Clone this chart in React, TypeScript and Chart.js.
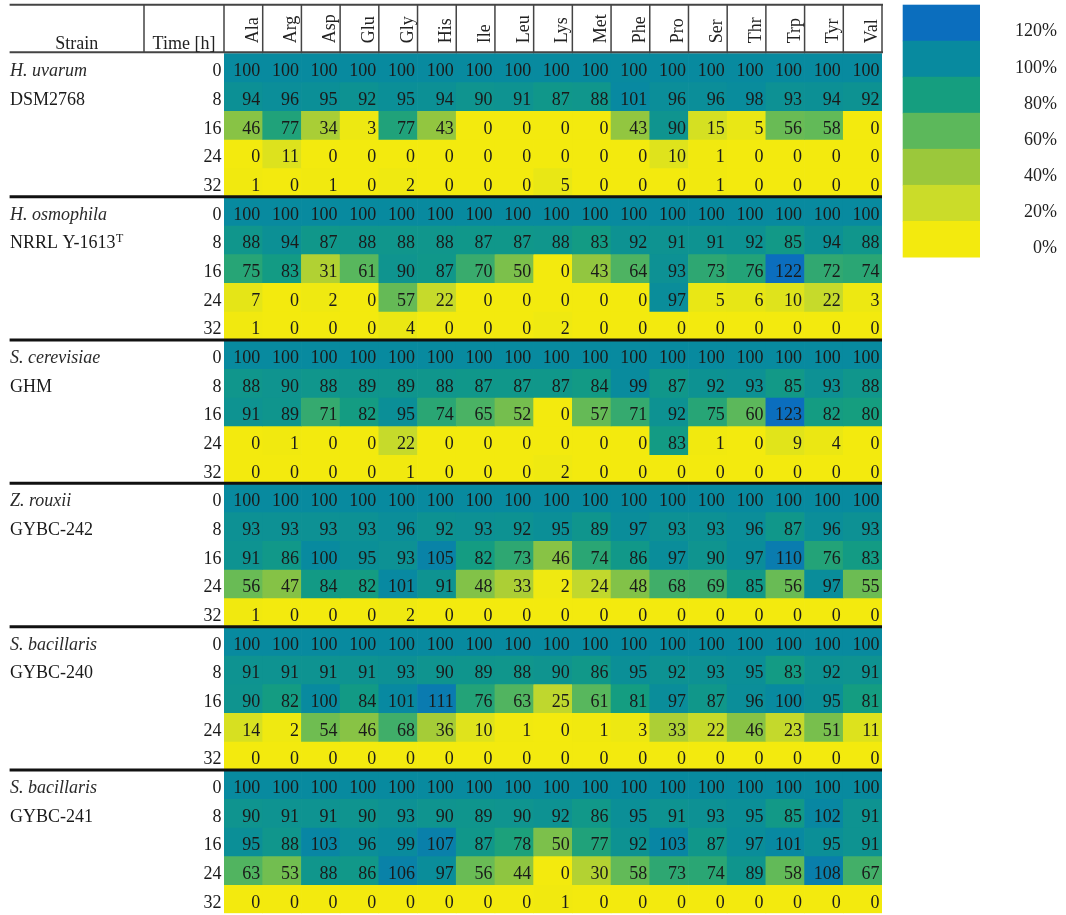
import { useEffect, useRef } from "react";
import { Chart, registerables } from "chart.js";

Chart.register(...registerables);

// ---------- DATA ----------
const aminoAcids = ["Ala", "Arg", "Asp", "Glu", "Gly", "His", "Ile", "Leu", "Lys", "Met", "Phe", "Pro", "Ser", "Thr", "Trp", "Tyr", "Val"];
const timePoints = [0, 8, 16, 24, 32];
const strainSpecies = ["H. uvarum", "H. osmophila", "S. cerevisiae", "Z. rouxii", "S. bacillaris", "S. bacillaris"];
const strainCodes = ["DSM2768", "NRRL Y-1613", "GHM", "GYBC-242", "GYBC-240", "GYBC-241"];
const strainCodeSup = ["", "T", "", "", "", ""];

const hUvarumDSM2768 = [
  [100, 100, 100, 100, 100, 100, 100, 100, 100, 100, 100, 100, 100, 100, 100, 100, 100],
  [94, 96, 95, 92, 95, 94, 90, 91, 87, 88, 101, 96, 96, 98, 93, 94, 92],
  [46, 77, 34, 3, 77, 43, 0, 0, 0, 0, 43, 90, 15, 5, 56, 58, 0],
  [0, 11, 0, 0, 0, 0, 0, 0, 0, 0, 0, 10, 1, 0, 0, 0, 0],
  [1, 0, 1, 0, 2, 0, 0, 0, 5, 0, 0, 0, 1, 0, 0, 0, 0],
];
const hOsmophilaNRRL = [
  [100, 100, 100, 100, 100, 100, 100, 100, 100, 100, 100, 100, 100, 100, 100, 100, 100],
  [88, 94, 87, 88, 88, 88, 87, 87, 88, 83, 92, 91, 91, 92, 85, 94, 88],
  [75, 83, 31, 61, 90, 87, 70, 50, 0, 43, 64, 93, 73, 76, 122, 72, 74],
  [7, 0, 2, 0, 57, 22, 0, 0, 0, 0, 0, 97, 5, 6, 10, 22, 3],
  [1, 0, 0, 0, 4, 0, 0, 0, 2, 0, 0, 0, 0, 0, 0, 0, 0],
];
const sCerevisiaeGHM = [
  [100, 100, 100, 100, 100, 100, 100, 100, 100, 100, 100, 100, 100, 100, 100, 100, 100],
  [88, 90, 88, 89, 89, 88, 87, 87, 87, 84, 99, 87, 92, 93, 85, 93, 88],
  [91, 89, 71, 82, 95, 74, 65, 52, 0, 57, 71, 92, 75, 60, 123, 82, 80],
  [0, 1, 0, 0, 22, 0, 0, 0, 0, 0, 0, 83, 1, 0, 9, 4, 0],
  [0, 0, 0, 0, 1, 0, 0, 0, 2, 0, 0, 0, 0, 0, 0, 0, 0],
];
const zRouxiiGYBC242 = [
  [100, 100, 100, 100, 100, 100, 100, 100, 100, 100, 100, 100, 100, 100, 100, 100, 100],
  [93, 93, 93, 93, 96, 92, 93, 92, 95, 89, 97, 93, 93, 96, 87, 96, 93],
  [91, 86, 100, 95, 93, 105, 82, 73, 46, 74, 86, 97, 90, 97, 110, 76, 83],
  [56, 47, 84, 82, 101, 91, 48, 33, 2, 24, 48, 68, 69, 85, 56, 97, 55],
  [1, 0, 0, 0, 2, 0, 0, 0, 0, 0, 0, 0, 0, 0, 0, 0, 0],
];
const sBacillarisGYBC240 = [
  [100, 100, 100, 100, 100, 100, 100, 100, 100, 100, 100, 100, 100, 100, 100, 100, 100],
  [91, 91, 91, 91, 93, 90, 89, 88, 90, 86, 95, 92, 93, 95, 83, 92, 91],
  [90, 82, 100, 84, 101, 111, 76, 63, 25, 61, 81, 97, 87, 96, 100, 95, 81],
  [14, 2, 54, 46, 68, 36, 10, 1, 0, 1, 3, 33, 22, 46, 23, 51, 11],
  [0, 0, 0, 0, 0, 0, 0, 0, 0, 0, 0, 0, 0, 0, 0, 0, 0],
];
const sBacillarisGYBC241 = [
  [100, 100, 100, 100, 100, 100, 100, 100, 100, 100, 100, 100, 100, 100, 100, 100, 100],
  [90, 91, 91, 90, 93, 90, 89, 90, 92, 86, 95, 91, 93, 95, 85, 102, 91],
  [95, 88, 103, 96, 99, 107, 87, 78, 50, 77, 92, 103, 87, 97, 101, 95, 91],
  [63, 53, 88, 86, 106, 97, 56, 44, 0, 30, 58, 73, 74, 89, 58, 108, 67],
  [0, 0, 0, 0, 0, 0, 0, 0, 1, 0, 0, 0, 0, 0, 0, 0, 0],
];
const strainValues = [hUvarumDSM2768, hOsmophilaNRRL, sCerevisiaeGHM, zRouxiiGYBC242, sBacillarisGYBC240, sBacillarisGYBC241];

const legendStops = [0, 20, 40, 60, 80, 100, 120];
const legendColors = ["#F3EA0E", "#CBDC29", "#9BC83B", "#5CB85B", "#159E7F", "#088A9F", "#0B6EBE"];
const legendLabels = ["0%", "20%", "40%", "60%", "80%", "100%", "120%"];

// ---------- HELPERS ----------
function hexToRgb(h: string) {
  const n = parseInt(h.slice(1), 16);
  return [(n >> 16) & 255, (n >> 8) & 255, n & 255];
}
function colorFor(v: number) {
  const last = legendStops.length - 1;
  if (v <= legendStops[0]) return legendColors[0];
  if (v >= legendStops[last]) return legendColors[last];
  let i = 0;
  while (v > legendStops[i + 1]) i++;
  const t = (v - legendStops[i]) / (legendStops[i + 1] - legendStops[i]);
  const a = hexToRgb(legendColors[i]);
  const b = hexToRgb(legendColors[i + 1]);
  const c = a.map((x, k) => Math.round(x + (b[k] - x) * t));
  return `rgb(${c[0]},${c[1]},${c[2]})`;
}

const SERIF = '"Liberation Serif", "Times New Roman", serif';
const FONT_PX = 18;
const TABLE_LEFT = 9.6;
const STRAIN_TIME_BORDER = 144;
const HEADER_TOP = 4.7;
const TIME_RIGHT = 221.5;
const TEXT_DY = 4;

export default function App() {
  const ref = useRef<HTMLCanvasElement>(null);

  useEffect(() => {
    if (!ref.current) return;
    const rows: { gi: number; ti: number; vals: number[] }[] = [];
    strainValues.forEach((g, gi) => g.forEach((vals, ti) => rows.push({ gi, ti, vals })));
    const nRows = rows.length;

    const datasets = rows.map((row, r) => ({
      label: `${strainCodes[row.gi]} ${timePoints[row.ti]} h`,
      data: row.vals.map(() => [r, r + 1]),
      backgroundColor: row.vals.map(colorFor),
      borderWidth: 0,
      barPercentage: 1,
      categoryPercentage: 1,
      grouped: false,
    }));

    const overlay = {
      id: "tableOverlay",
      afterDatasetsDraw(chart: any) {
        const ctx = chart.ctx as CanvasRenderingContext2D;
        const xs = chart.scales.x;
        const ys = chart.scales.y;
        const area = chart.chartArea;
        const colW = (area.right - area.left) / aminoAcids.length;
        ctx.save();

        // cell values + time labels
        ctx.font = `${FONT_PX}px ${SERIF}`;
        ctx.fillStyle = "#1a1a1a";
        ctx.textAlign = "right";
        ctx.textBaseline = "middle";
        rows.forEach((row, r) => {
          const yc = ys.getPixelForValue(r + 0.5) + TEXT_DY;
          row.vals.forEach((v, i) => {
            const xr = xs.getPixelForValue(i) + colW / 2 - 2.5;
            ctx.fillText(String(v), xr, yc);
          });
          ctx.fillText(String(timePoints[row.ti]), TIME_RIGHT, yc);
        });

        // strain names
        ctx.textAlign = "left";
        strainSpecies.forEach((sp, gi) => {
          const y0 = ys.getPixelForValue(gi * timePoints.length + 0.5) + TEXT_DY;
          const y1 = ys.getPixelForValue(gi * timePoints.length + 1.5) + TEXT_DY;
          ctx.font = `italic ${FONT_PX}px ${SERIF}`;
          ctx.fillStyle = "#2a2a2a";
          ctx.fillText(sp, 10, y0);
          ctx.font = `${FONT_PX}px ${SERIF}`;
          ctx.fillStyle = "#1a1a1a";
          ctx.fillText(strainCodes[gi], 10, y1);
          if (strainCodeSup[gi]) {
            const w = ctx.measureText(strainCodes[gi]).width;
            ctx.font = `12px ${SERIF}`;
            ctx.fillText(strainCodeSup[gi], 10 + w + 0.5, y1 - 5);
          }
        });

        // group separators
        ctx.strokeStyle = "#111";
        ctx.lineWidth = 3;
        for (let gi = 1; gi < strainValues.length; gi++) {
          const y = ys.getPixelForValue(gi * timePoints.length);
          ctx.beginPath();
          ctx.moveTo(TABLE_LEFT, y);
          ctx.lineTo(area.right, y);
          ctx.stroke();
        }

        // header box
        ctx.strokeStyle = "#444";
        ctx.lineWidth = 2;
        ctx.beginPath();
        ctx.moveTo(TABLE_LEFT, HEADER_TOP);
        ctx.lineTo(area.right + 1, HEADER_TOP);
        ctx.moveTo(TABLE_LEFT, area.top - 1);
        ctx.lineTo(area.right + 1, area.top - 1);
        ctx.stroke();
        ctx.lineWidth = 1.5;
        ctx.beginPath();
        const vlines = [STRAIN_TIME_BORDER];
        for (let i = 0; i <= aminoAcids.length; i++) vlines.push(area.left + i * colW);
        vlines.forEach((x) => {
          ctx.moveTo(x, HEADER_TOP);
          ctx.lineTo(x, area.top - 1);
        });
        ctx.stroke();

        ctx.fillStyle = "#222";
        ctx.font = `${FONT_PX}px ${SERIF}`;
        ctx.textAlign = "center";
        ctx.textBaseline = "alphabetic";
        ctx.fillText("Strain", (TABLE_LEFT + STRAIN_TIME_BORDER) / 2, 49);
        ctx.fillText("Time [h]", (STRAIN_TIME_BORDER + area.left) / 2, 49);

        ctx.textAlign = "left";
        aminoAcids.forEach((aa, i) => {
          const xr = xs.getPixelForValue(i) + colW / 2 - 5;
          ctx.save();
          ctx.translate(xr, area.top - 10);
          ctx.rotate(-Math.PI / 2);
          ctx.fillText(aa, 0, 0);
          ctx.restore();
        });

        // legend colour bar
        const barL = 902.7, barR = 980, barT = 4.7, barB = 257;
        const bandH = (barB - barT) / legendStops.length;
        for (let k = 0; k < legendStops.length; k++) {
          const idx = legendStops.length - 1 - k;
          ctx.fillStyle = legendColors[idx];
          ctx.fillRect(barL, barT + k * bandH, barR - barL, bandH + 0.5);
        }
        ctx.fillStyle = "#222";
        ctx.font = `${FONT_PX}px ${SERIF}`;
        ctx.textAlign = "right";
        ctx.textBaseline = "middle";
        for (let k = 0; k < legendStops.length; k++) {
          const idx = legendStops.length - 1 - k;
          ctx.fillText(legendLabels[idx], 1057, barT + (k + 0.75) * bandH);
        }
        ctx.restore();
      },
    };

    const chart = new Chart(ref.current, {
      type: "bar",
      data: { labels: aminoAcids, datasets: datasets as any },
      options: {
        animation: false,
        responsive: false,
        maintainAspectRatio: false,
        layout: { padding: { left: 224, right: 184, top: 53.3, bottom: 1.7 } },
        plugins: { legend: { display: false }, tooltip: { enabled: false } },
        scales: {
          x: { display: false, offset: true },
          y: { display: false, min: 0, max: nRows, reverse: true },
        },
      },
      plugins: [overlay],
    });
    return () => chart.destroy();
  }, []);

  return (
    <div style={{ position: "absolute", left: 0, top: 0, width: 1066, height: 915, background: "#fff" }}>
      <canvas ref={ref} width={1066} height={915} style={{ display: "block" }} />
    </div>
  );
}
